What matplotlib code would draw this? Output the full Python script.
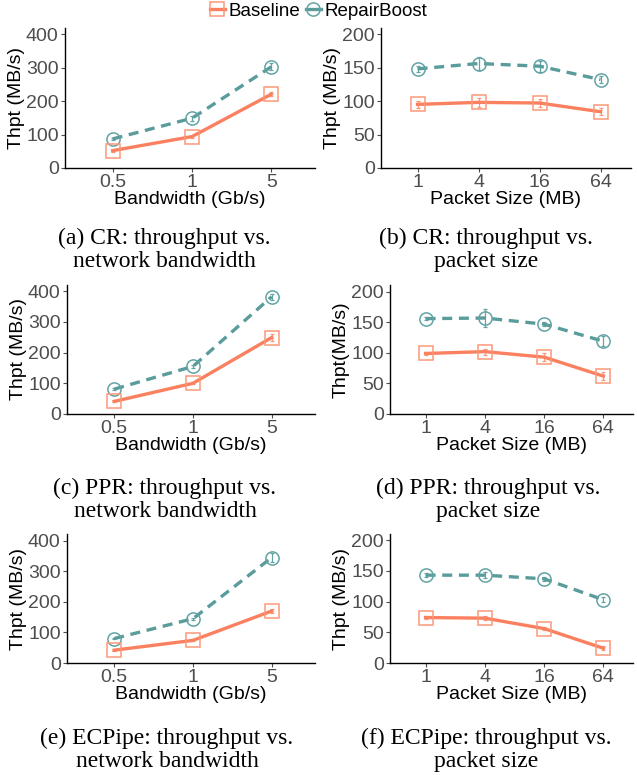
import matplotlib
matplotlib.use('Agg')
import matplotlib.pyplot as plt
from matplotlib.lines import Line2D

# x categories
bandwidths = ['0.5', '1', '5']
packet_sizes = ['1', '4', '16', '64']

# (a) CR vs bandwidth
cr_bw_base = [52, 94, 221]
cr_bw_base_err = [3, 3, 6]
cr_bw_rb = [87, 149, 303]
cr_bw_rb_err = [3, 7, 10]

# (b) CR vs packet size
cr_ps_base = [95, 98, 97, 84]
cr_ps_base_err = [5, 7, 6, 5]
cr_ps_rb = [148, 156, 152, 132]
cr_ps_rb_err = [4, 9, 8, 5]

# (c) PPR vs bandwidth
ppr_bw_base = [41, 100, 249]
ppr_bw_base_err = [3, 3, 12]
ppr_bw_rb = [81, 155, 382]
ppr_bw_rb_err = [3, 4, 10]

# (d) PPR vs packet size
ppr_ps_base = [99, 102, 93, 62]
ppr_ps_base_err = [3, 5, 6, 7]
ppr_ps_rb = [156, 157, 147, 119]
ppr_ps_rb_err = [3, 14, 3, 8]

# (e) ECPipe vs bandwidth
ec_bw_base = [42, 74, 170]
ec_bw_base_err = [2, 3, 6]
ec_bw_rb = [80, 145, 345]
ec_bw_rb_err = [3, 3, 16]

# (f) ECPipe vs packet size
ec_ps_base = [74, 73, 56, 24]
ec_ps_base_err = [3, 3, 3, 3]
ec_ps_rb = [143, 143, 137, 103]
ec_ps_rb_err = [3, 5, 3, 4]

panels = (
    # box (l, r, top, bottom) px, xcats, base, base_err, rb, rb_err, ymax, yticks, xlabel, ylabel, caption, caption x, caption y
    ((65, 315, 28, 168), bandwidths, cr_bw_base, cr_bw_base_err, cr_bw_rb, cr_bw_rb_err,
     419, [0, 100, 200, 300, 400], 'Bandwidth (Gb/s)', 'Thpt (MB/s)',
     '(a) CR: throughput vs.\nnetwork bandwidth', 164, 250),
    ((381, 631, 28, 168), packet_sizes, cr_ps_base, cr_ps_base_err, cr_ps_rb, cr_ps_rb_err,
     209, [0, 50, 100, 150, 200], 'Packet Size (MB)', 'Thpt (MB/s)',
     '(b) CR: throughput vs.\npacket size', 486, 250),
    ((67, 315, 285, 414), bandwidths, ppr_bw_base, ppr_bw_base_err, ppr_bw_rb, ppr_bw_rb_err,
     420, [0, 100, 200, 300, 400], 'Bandwidth (Gb/s)', 'Thpt (MB/s)',
     '(c) PPR: throughput vs.\nnetwork bandwidth', 165, 500),
    ((390, 633, 285, 414), packet_sizes, ppr_ps_base, ppr_ps_base_err, ppr_ps_rb, ppr_ps_rb_err,
     211, [0, 50, 100, 150, 200], 'Packet Size (MB)', 'Thpt(MB/s)',
     '(d) PPR: throughput vs.\npacket size', 488, 500),
    ((67, 315, 534, 663), bandwidths, ec_bw_base, ec_bw_base_err, ec_bw_rb, ec_bw_rb_err,
     422, [0, 100, 200, 300, 400], 'Bandwidth (Gb/s)', 'Thpt (MB/s)',
     '(e) ECPipe: throughput vs.\nnetwork bandwidth', 167, 750),
    ((390, 633, 534, 663), packet_sizes, ec_ps_base, ec_ps_base_err, ec_ps_rb, ec_ps_rb_err,
     210, [0, 50, 100, 150, 200], 'Packet Size (MB)', 'Thpt (MB/s)',
     '(f) ECPipe: throughput vs.\npacket size', 486, 750),
)

BASE_LINE = '#FA8060'
BASE_MARK = '#FB9878'
RB_LINE = '#5A9B9B'
RB_MARK = '#62A3A3'

W, H = 637, 775
plt.rcParams['font.family'] = ['Liberation Sans', 'DejaVu Sans']
fig = plt.figure(figsize=(W / 100, H / 100), dpi=100)

for (l, r, t, b), xcats, base, base_err, rb, rb_err, ymax, yticks, xlabel, ylabel, caption, cx, cy in panels:
    ax = fig.add_axes((l / W, 1 - b / H, (r - l) / W, (b - t) / H))
    x = list(range(len(xcats)))

    ax.errorbar(x, rb, yerr=rb_err, color=RB_MARK, elinewidth=0.9, capsize=1.5, capthick=0.9,
                linestyle='none', zorder=2)
    ax.plot(x, rb, color=RB_LINE, lw=2.4, dashes=(3, 2), zorder=3)
    ax.plot(x, rb, linestyle='none', marker='o', ms=9.5, mfc='none', mec=RB_MARK, mew=1.1, zorder=4)

    ax.errorbar(x, base, yerr=base_err, color=BASE_MARK, elinewidth=0.9, capsize=1.5, capthick=0.9,
                linestyle='none', zorder=2)
    ax.plot(x, base, color=BASE_LINE, lw=2.4, zorder=3)
    ax.plot(x, base, linestyle='none', marker='s', ms=9.5, mfc='none', mec=BASE_MARK, mew=1.1, zorder=4)

    ax.set_xlim(-0.6, len(xcats) - 1 + (0.55 if len(xcats) == 3 else 0.5))
    ax.set_ylim(0, ymax)
    ax.set_xticks(x)
    ax.set_xticklabels(xcats)
    ax.set_yticks(yticks)
    ax.tick_params(axis='both', labelsize=14, colors='#4D4D4D', length=3, width=0.8, pad=1.5)
    ax.set_xlabel(xlabel, fontsize=14, labelpad=0)
    ax.set_ylabel(ylabel, fontsize=14, labelpad=1)
    for side in ('top', 'right'):
        ax.spines[side].set_visible(False)
    for side in ('left', 'bottom'):
        ax.spines[side].set_linewidth(1.0)
        ax.spines[side].set_color('black')

    fig.text(cx / W, 1 - cy / H, caption, ha='center', va='center', fontsize=17,
             family='Liberation Serif', linespacing=1.1)

handles = [
    Line2D([], [], color=BASE_LINE, lw=2.4, marker='s', ms=9.5, mfc='none', mec=BASE_MARK, mew=1.1),
    Line2D([], [], color=RB_LINE, lw=2.4, marker='o', ms=9.5, mfc='none', mec=RB_MARK, mew=1.1),
]
fig.legend(handles, ['Baseline', 'RepairBoost'], loc='center', bbox_to_anchor=(0.5, 1 - 11 / H),
           ncol=2, frameon=False, fontsize=13.5, handlelength=0.8, handletextpad=0.2,
           columnspacing=0.3, borderpad=0)

fig.savefig('out.png', dpi=100)
